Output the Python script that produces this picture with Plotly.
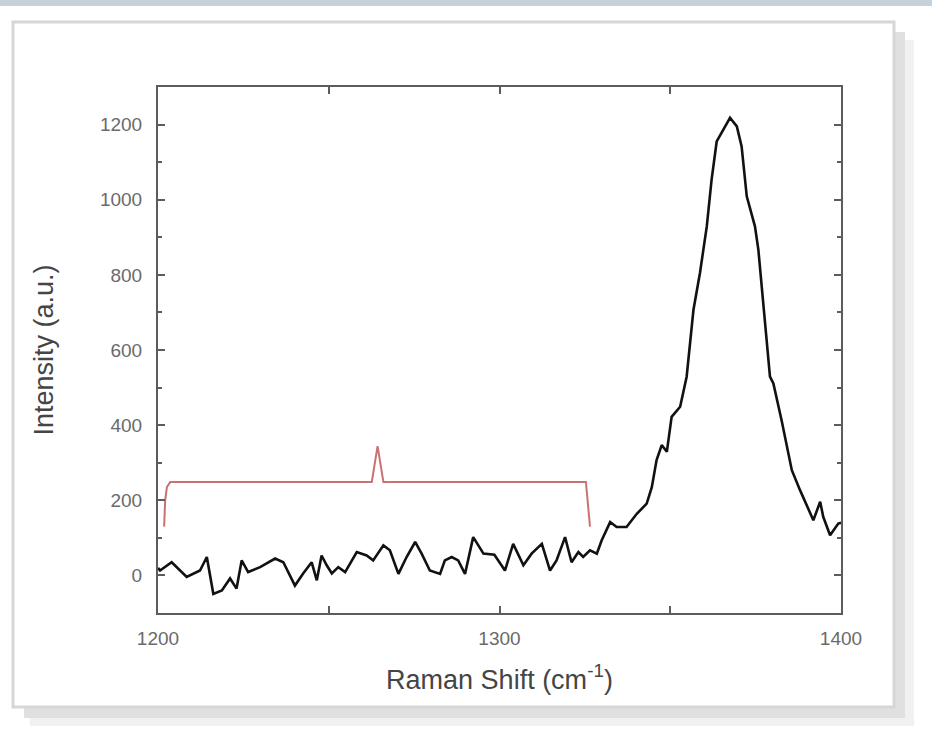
import plotly.graph_objects as go

# ---- data ----
raman_shift = [1200.0, 1200.6, 1204.0, 1208.4, 1212.3, 1214.3, 1216.2, 1218.7, 1221.1, 1223.0,
               1224.5, 1226.4, 1229.9, 1234.3, 1236.7, 1240.1, 1242.5, 1245.0, 1246.5, 1247.9,
               1249.4, 1250.9, 1252.8, 1254.8, 1258.2, 1261.1, 1263.0, 1266.0, 1267.9, 1270.4,
               1272.8, 1275.3, 1277.2, 1279.6, 1282.6, 1284.0, 1286.0, 1287.9, 1289.9, 1292.3,
               1295.3, 1298.5, 1301.6, 1304.0, 1307.0, 1309.4, 1312.4, 1314.8, 1316.7, 1319.2,
               1321.1, 1323.1, 1324.5, 1326.5, 1328.5, 1329.9, 1332.4, 1334.3, 1337.2, 1340.2,
               1343.1, 1344.6, 1346.0, 1347.5, 1349.0, 1350.4, 1352.9, 1354.8, 1356.8, 1358.7,
               1360.7, 1362.1, 1363.6, 1365.5, 1367.5, 1369.5, 1370.9, 1372.4, 1374.8, 1375.8,
               1377.3, 1379.2, 1380.2, 1382.6, 1385.6, 1388.0, 1391.9, 1393.9, 1394.8, 1396.8,
               1399.2, 1400.0]
intensity = [20, 13, 35, -4, 13, 49, -49, -40, -8, -35,
             40, 9, 22, 45, 35, -27, 5, 35, -13, 53,
             27, 5, 22, 9, 62, 53, 40, 80, 67, 4,
             49, 89, 58, 13, 4, 40, 49, 40, 4, 102,
             58, 55, 13, 84, 27, 58, 84, 13, 40, 102,
             35, 62, 49, 67, 58, 93, 142, 129, 129, 164,
             191, 235, 307, 347, 329, 422, 449, 529, 707, 805,
             929, 1053, 1155, 1187, 1218, 1195, 1142, 1009, 929, 867,
             715, 529, 511, 413, 280, 227, 147, 196, 156, 107,
             138, 140]

# curly-brace annotation (red)
bracket_x = [1201.8, 1202.1, 1202.6, 1203.6, 1262.6, 1264.3, 1266.0, 1325.3, 1326.5]
bracket_y = [130, 200, 235, 249, 249, 344, 249, 249, 130]

x_range = [1200, 1400]
y_range = [-100, 1300]
x_ticks = [1200, 1300, 1400]
y_ticks = [0, 200, 400, 600, 800, 1000, 1200]

fig = go.Figure()
fig.add_trace(go.Scatter(x=bracket_x, y=bracket_y, mode="lines",
                         line=dict(color="#c97272", width=2), hoverinfo="skip",
                         showlegend=False))
fig.add_trace(go.Scatter(x=raman_shift, y=intensity, mode="lines",
                         line=dict(color="#111111", width=2.6), showlegend=False))

# paper-coordinate helpers for the decorative frame
L, R, T, B = 158, 841, 87, 613
W, H = 932, 737
def px(v):
    return (v - L) / (R - L)
def py(v):
    return (B - v) / (B - T)

shapes = [
    # top blue-grey strip
    dict(type="rect", xref="paper", yref="paper", x0=px(-5), x1=px(W + 5), y0=py(-5), y1=py(6),
         fillcolor="#c6d1da", line=dict(width=0), layer="below"),
    # outer soft shadow
    dict(type="rect", xref="paper", yref="paper", x0=px(30), x1=px(914), y0=py(40), y1=py(726),
         fillcolor="#f1f1f1", line=dict(width=0), layer="below"),
    # inner shadow
    dict(type="rect", xref="paper", yref="paper", x0=px(24), x1=px(905), y0=py(32), y1=py(718),
         fillcolor="#e0e0e0", line=dict(width=0), layer="below"),
    # card
    dict(type="rect", xref="paper", yref="paper", x0=px(13), x1=px(894), y0=py(22), y1=py(707),
         fillcolor="#ffffff", line=dict(color="#d6d6d6", width=3), layer="below"),
]

FONT = "Liberation Sans, Arial, sans-serif"
axis_common = dict(
    showline=True, linecolor="#5c5c5c", linewidth=2, mirror="ticks",
    ticks="inside", ticklen=7, tickwidth=2, tickcolor="#5c5c5c",
    showgrid=False, zeroline=False,
    tickfont=dict(family=FONT, size=19, color="#6a6a6a"),
)

fig.update_layout(
    width=W, height=H,
    margin=dict(l=L, r=W - R, t=T, b=H - B, pad=0),
    paper_bgcolor="#ffffff", plot_bgcolor="#ffffff",
    shapes=shapes,
    xaxis=dict(range=x_range, tickvals=x_ticks, ticktext=[str(v) for v in x_ticks],
               minor=dict(ticks="inside", dtick=50, tick0=1200, ticklen=7, tickwidth=2,
                          tickcolor="#5c5c5c"),
               ticklabelstandoff=7,
               title=dict(text="Raman Shift (cm<sup>-1</sup>)", standoff=22,
                          font=dict(family=FONT, size=27, color="#454545")),
               **axis_common),
    yaxis=dict(range=y_range, tickvals=y_ticks, ticktext=[str(v) for v in y_ticks],
               minor=dict(ticks="inside", dtick=100, tick0=0, ticklen=4, tickwidth=2,
                          tickcolor="#5c5c5c"),
               ticklabelstandoff=10,
               title=dict(text="Intensity (a.u.)", standoff=38,
                          font=dict(family=FONT, size=27, color="#454545")),
               **axis_common),
)

fig.write_html("out.html")
